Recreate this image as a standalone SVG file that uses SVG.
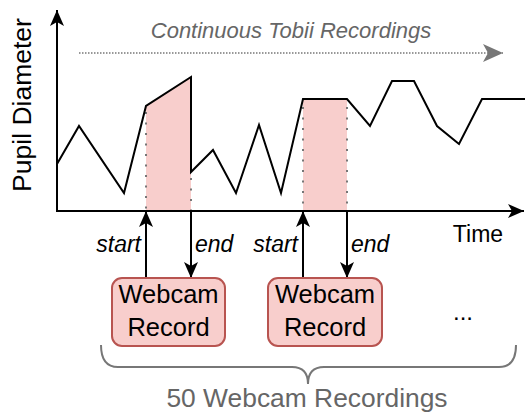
<svg xmlns="http://www.w3.org/2000/svg" width="525" height="413" viewBox="0 0 525 413">
<defs>
<style>
text{font-family:"Liberation Sans",Arial,sans-serif;}
.ax{fill:none;stroke:#000;stroke-width:2;}
.gr{fill:none;stroke:#000;stroke-width:2;stroke-linejoin:miter;}
.dot{fill:none;stroke:#777;stroke-width:2;stroke-dasharray:2 8.5;}
.hdot{fill:none;stroke:#777;stroke-width:1.6;stroke-dasharray:1.5 1.5;}
.pink{fill:#f8cecc;stroke:none;}
.box{fill:#f8cecc;stroke:#b85450;stroke-width:2;}
.bt{font-size:25.5px;fill:#000;text-anchor:middle;}
.lbl{font-size:23px;font-style:italic;fill:#000;}
.gray{fill:#666;}
</style>
<marker id="ah" markerUnits="userSpaceOnUse" markerWidth="18" markerHeight="16" refX="16" refY="8" orient="auto" viewBox="0 0 18 16">
<path d="M0,1 L16,8 L0,15 L4,8 Z" fill="#000"/>
</marker>
<marker id="ahg" markerUnits="userSpaceOnUse" markerWidth="22" markerHeight="20" refX="20" refY="10" orient="auto" viewBox="0 0 22 20">
<path d="M0,1 L20,10 L0,19 L5,10 Z" fill="#777"/>
</marker>
</defs>

<g id="highlights">
<polygon class="pink" points="146,106 191,77 191,211 146,211"/>
<rect class="pink" x="303" y="99" width="44" height="112"/>
</g>

<g id="connectors">
<line class="dot" x1="146" y1="112" x2="146" y2="211"/>
<line class="dot" x1="191" y1="178" x2="191" y2="211"/>
<line class="dot" x1="303" y1="107" x2="303" y2="211"/>
<line class="dot" x1="347" y1="107" x2="347" y2="211"/>
<line class="hdot" x1="79" y1="53" x2="503" y2="53" marker-end="url(#ahg)"/>
<polyline class="gr" points="57,164 79,126 124,193 146,106 191,77 191,172 213,150 236,193 259,125 281,193 303,99 347,99 370,126 392,81 414,81 437,126 459,144 482,99 525,99"/>
<line class="ax" x1="57" y1="211" x2="57" y2="10" marker-end="url(#ah)"/>
<line class="ax" x1="56" y1="211" x2="524" y2="211" marker-end="url(#ah)"/>
<line class="ax" x1="146" y1="278" x2="146" y2="211" marker-end="url(#ah)"/>
<line class="ax" x1="191" y1="211" x2="191" y2="278" marker-end="url(#ah)"/>
<line class="ax" x1="303" y1="278" x2="303" y2="211" marker-end="url(#ah)"/>
<line class="ax" x1="347" y1="211" x2="347" y2="278" marker-end="url(#ah)"/>
<path d="M101,345 Q101,367 118,367 L292,367 Q308,367 308,384 Q308,367 324,367 L499,367 Q516,367 516,345" fill="none" stroke="#777" stroke-width="2"/>
</g>

<g id="labels">
<text x="0" y="0" transform="translate(31,105) rotate(-90)" font-size="26.5" text-anchor="middle">Pupil Diameter</text>
<text x="291" y="38" font-size="22" font-style="italic" text-anchor="middle" class="gray">Continuous Tobii Recordings</text>
<text x="478" y="242" font-size="23" text-anchor="middle">Time</text>
<text class="lbl" x="141" y="252" text-anchor="end">start</text>
<text class="lbl" x="195" y="252">end</text>
<text class="lbl" x="298" y="252" text-anchor="end">start</text>
<text class="lbl" x="351" y="252">end</text>
<text x="463" y="320" font-size="24" text-anchor="middle">...</text>
<text x="307" y="407" font-size="26.4" text-anchor="middle" class="gray">50 Webcam Recordings</text>
</g>

<g id="rec1">
<rect class="box" x="112" y="278" width="113" height="68" rx="10"/>
<text class="bt" x="168.5" y="303">Webcam</text>
<text class="bt" x="168.5" y="336">Record</text>
</g>
<g id="rec2">
<rect class="box" x="268" y="278" width="114" height="68" rx="10"/>
<text class="bt" x="325" y="303">Webcam</text>
<text class="bt" x="325" y="336">Record</text>
</g>
</svg>
